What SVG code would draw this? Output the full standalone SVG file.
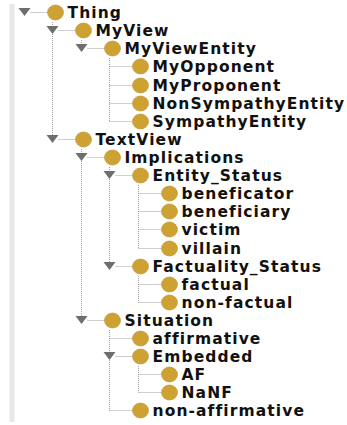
<svg xmlns="http://www.w3.org/2000/svg" width="347" height="425" viewBox="0 0 347 425">
<style>
.c{stroke:#a0a0a0;stroke-width:1;stroke-dasharray:1 1;fill:none}
.t{fill:#6e6e6e}
.b{fill:#cda132;stroke:#b9922e;stroke-width:0.6}
.l{font-family:"DejaVu Sans",sans-serif;font-weight:bold;font-size:15.5px;letter-spacing:1.1px;fill:#111}
</style>
<rect x="0" y="0" width="347" height="425" fill="#fff"/>
<rect x="9.5" y="4" width="5" height="418" fill="#e8e8e8"/>
<g id="connectors">
<path class="c" d="M52.5 22V139M81.5 40V48M109.5 58V121.5M81.5 149V320M109.5 167V266M138.5 185V248.5M138.5 276V302.5M109.5 330V410.5M138.5 366V392.5"/>
<path class="c" d="M30.5 12.5H47.5M58.5 30.5H75.5M87.5 48.5H104.5M109.5 66.5H132.5M109.5 85.5H132.5M109.5 103.5H132.5M109.5 121.5H132.5M58.5 139.5H75.5M87.5 157.5H104.5M115.5 175.5H132.5M138.5 193.5H161.5M138.5 211.5H161.5M138.5 229.5H161.5M138.5 248.5H161.5M115.5 266.5H132.5M138.5 284.5H161.5M138.5 302.5H161.5M87.5 320.5H104.5M109.5 338.5H132.5M115.5 356.5H132.5M138.5 374.5H161.5M138.5 392.5H161.5M109.5 410.5H132.5"/>
</g>
<g id="Thing" transform="translate(24.5,12)"><polygon class="t" points="-6,-4 6,-4 0,4"/><ellipse class="b" cx="31" cy="0.5" rx="8" ry="7.5"/><text class="l" x="43" y="6">Thing</text></g>
<g id="MyView" transform="translate(52.5,30)"><polygon class="t" points="-6,-4 6,-4 0,4"/><ellipse class="b" cx="31" cy="0.5" rx="8" ry="7.5"/><text class="l" x="43" y="6">MyView</text></g>
<g id="MyViewEntity" transform="translate(81.5,48)"><polygon class="t" points="-6,-4 6,-4 0,4"/><ellipse class="b" cx="31" cy="0.5" rx="8" ry="7.5"/><text class="l" x="43" y="6">MyViewEntity</text></g>
<g id="MyOpponent" transform="translate(109.5,66)"><ellipse class="b" cx="31" cy="0.5" rx="8" ry="7.5"/><text class="l" x="43" y="6">MyOpponent</text></g>
<g id="MyProponent" transform="translate(109.5,85)"><ellipse class="b" cx="31" cy="0.5" rx="8" ry="7.5"/><text class="l" x="43" y="6">MyProponent</text></g>
<g id="NonSympathyEntity" transform="translate(109.5,103)"><ellipse class="b" cx="31" cy="0.5" rx="8" ry="7.5"/><text class="l" x="43" y="6">NonSympathyEntity</text></g>
<g id="SympathyEntity" transform="translate(109.5,121)"><ellipse class="b" cx="31" cy="0.5" rx="8" ry="7.5"/><text class="l" x="43" y="6">SympathyEntity</text></g>
<g id="TextView" transform="translate(52.5,139)"><polygon class="t" points="-6,-4 6,-4 0,4"/><ellipse class="b" cx="31" cy="0.5" rx="8" ry="7.5"/><text class="l" x="43" y="6">TextView</text></g>
<g id="Implications" transform="translate(81.5,157)"><polygon class="t" points="-6,-4 6,-4 0,4"/><ellipse class="b" cx="31" cy="0.5" rx="8" ry="7.5"/><text class="l" x="43" y="6">Implications</text></g>
<g id="Entity_Status" transform="translate(109.5,175)"><polygon class="t" points="-6,-4 6,-4 0,4"/><ellipse class="b" cx="31" cy="0.5" rx="8" ry="7.5"/><text class="l" x="43" y="6">Entity_Status</text></g>
<g id="beneficator" transform="translate(138.5,193)"><ellipse class="b" cx="31" cy="0.5" rx="8" ry="7.5"/><text class="l" x="43" y="6">beneficator</text></g>
<g id="beneficiary" transform="translate(138.5,211)"><ellipse class="b" cx="31" cy="0.5" rx="8" ry="7.5"/><text class="l" x="43" y="6">beneficiary</text></g>
<g id="victim" transform="translate(138.5,229)"><ellipse class="b" cx="31" cy="0.5" rx="8" ry="7.5"/><text class="l" x="43" y="6">victim</text></g>
<g id="villain" transform="translate(138.5,248)"><ellipse class="b" cx="31" cy="0.5" rx="8" ry="7.5"/><text class="l" x="43" y="6">villain</text></g>
<g id="Factuality_Status" transform="translate(109.5,266)"><polygon class="t" points="-6,-4 6,-4 0,4"/><ellipse class="b" cx="31" cy="0.5" rx="8" ry="7.5"/><text class="l" x="43" y="6">Factuality_Status</text></g>
<g id="factual" transform="translate(138.5,284)"><ellipse class="b" cx="31" cy="0.5" rx="8" ry="7.5"/><text class="l" x="43" y="6">factual</text></g>
<g id="non-factual" transform="translate(138.5,302)"><ellipse class="b" cx="31" cy="0.5" rx="8" ry="7.5"/><text class="l" x="43" y="6">non-factual</text></g>
<g id="Situation" transform="translate(81.5,320)"><polygon class="t" points="-6,-4 6,-4 0,4"/><ellipse class="b" cx="31" cy="0.5" rx="8" ry="7.5"/><text class="l" x="43" y="6">Situation</text></g>
<g id="affirmative" transform="translate(109.5,338)"><ellipse class="b" cx="31" cy="0.5" rx="8" ry="7.5"/><text class="l" x="43" y="6">affirmative</text></g>
<g id="Embedded" transform="translate(109.5,356)"><polygon class="t" points="-6,-4 6,-4 0,4"/><ellipse class="b" cx="31" cy="0.5" rx="8" ry="7.5"/><text class="l" x="43" y="6">Embedded</text></g>
<g id="AF" transform="translate(138.5,374)"><ellipse class="b" cx="31" cy="0.5" rx="8" ry="7.5"/><text class="l" x="43" y="6">AF</text></g>
<g id="NaNF" transform="translate(138.5,392)"><ellipse class="b" cx="31" cy="0.5" rx="8" ry="7.5"/><text class="l" x="43" y="6">NaNF</text></g>
<g id="non-affirmative" transform="translate(109.5,410)"><ellipse class="b" cx="31" cy="0.5" rx="8" ry="7.5"/><text class="l" x="43" y="6">non-affirmative</text></g>
</svg>
